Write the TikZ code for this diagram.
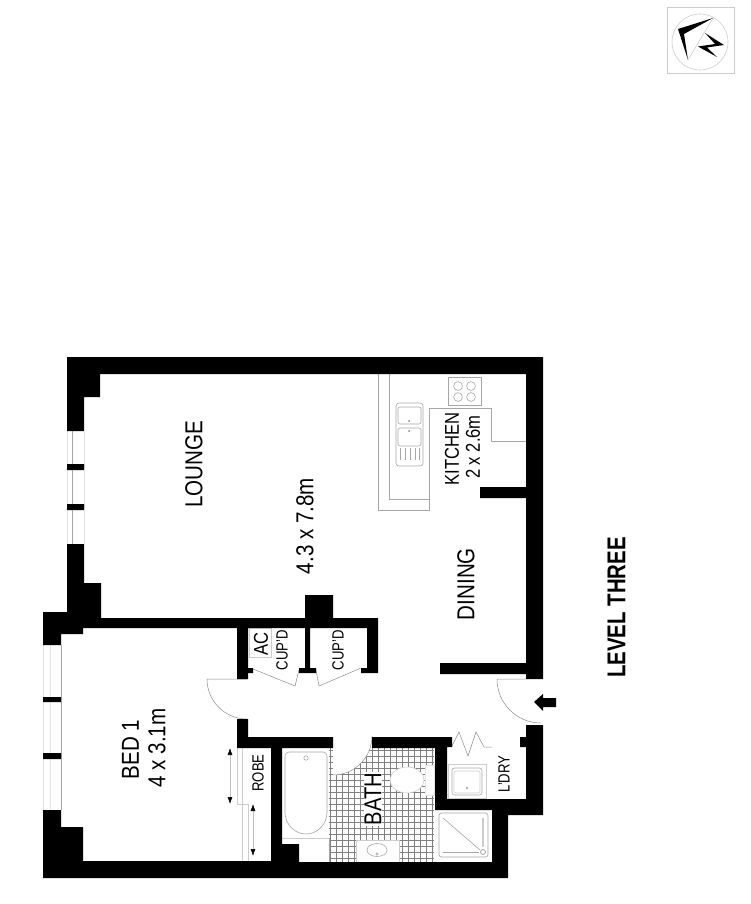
\documentclass[tikz,border=0pt]{standalone}
\usepackage{fontspec}
\setmainfont{Liberation Sans}
\usetikzlibrary{positioning}
\usetikzlibrary{arrows.meta}
\tikzset{
    wall/.style={fill=black},
    fixture/.style={draw=black!35, line width=0.6pt},
    faint/.style={draw=black!20, line width=0.6pt},
    paleline/.style={draw=black!10, line width=0.6pt},
    doorline/.style={draw=black!45, line width=0.5pt},
    tile/.style={draw=black!50, line width=0.9pt},
    roomlabel/.style={rotate=90, xscale=.84, font=\fontsize{24.5}{28}\selectfont, inner sep=0pt},
    smalllabel/.style={rotate=90, xscale=.81, font=\fontsize{16.2}{20}\selectfont, inner sep=0pt},
    kitchenlabel/.style={rotate=90, xscale=.83, font=\fontsize{20}{24}\selectfont, inner sep=0pt},
    robearrow/.style={{Latex[length=7pt,width=5pt,black]}-{Latex[length=7pt,width=5pt,black]}, draw=black!25, line width=0.6pt}
}
\begin{document}
\begin{tikzpicture}[x=1pt, y=-1pt]
    \useasboundingbox (0,0) rectangle (750,904);

    % Bathroom tiles
    \begin{scope}
        \clip (329,748) rectangle (434,862);
        \draw[tile, step=6pt] (329,748) grid (434,862);
    \end{scope}
    \fill[white] (333,736) -- (372,736) arc[start angle=0, end angle=-90, radius=39pt] -- cycle;
    \draw[doorline] (372,736) arc[start angle=0, end angle=-90, radius=39pt];

    % Bath
    \fill[white] (282,748) rectangle (329,862);
    \draw[faint] (282,838) -- (329,838);
    \draw[fixture, rounded corners=4pt] (285,812) -- (285,752) -- (327,752) -- (327,812);
    \draw[fixture] (285,812) arc[start angle=180, end angle=360, x radius=21pt, y radius=22pt];
    \draw[fixture] (306,758) circle[radius=2.2pt];
    \draw[fixture] (329,838) -- (329,862);

    % Toilet and basin
    \draw[faint, fill=white] (407,780) ellipse[x radius=17pt, y radius=13pt];
    \draw[paleline, fill=white] (425,765) rectangle (434,795);
    \draw[faint, fill=white] (356,840) rectangle (399,862);
    \draw[fixture] (377,850) ellipse[x radius=10pt, y radius=6.5pt];
    \draw[fixture] (377,854) circle[radius=1.2pt];

    % Shower
    \fill[white] (435,810) rectangle (492,861);
    \draw[fixture, rounded corners=2.5pt] (439,813) rectangle (488,857);
    \draw[fixture] (443,818) -- (480,850);
    \draw[fixture] (443,852) -- (479,852);
    \draw[faint, line width=1.2pt] (483,818) -- (483,847);
    \draw[fixture, line width=0.8pt] (483,852) circle[radius=2.5pt];

    % Laundry
    \draw[faint] (448,764) rectangle (486,798);
    \draw[fixture, rounded corners=2.5pt] (452,768) rectangle (482,795);
    \draw[faint, rounded corners=2pt] (454,771) rectangle (480,793);
    \draw[fixture] (467,788) circle[radius=1pt];
    \draw[doorline] (452,746) -- (459,732) -- (468,756) -- (476,732) -- (484,747) -- (492,747);

    % Kitchen
    \draw[fixture] (378,374) -- (378,510) -- (429,510) -- (429,408) -- (491,408) -- (491,441) -- (526,441);
    \draw[fixture] (389,374) -- (389,499) -- (429,499);
    \draw[fixture] (448,377) rectangle (481,405);
    \draw[fixture] (458,386) circle[radius=4.4pt] (471,386) circle[radius=4.4pt];
    \draw[fixture] (458,397) circle[radius=4.4pt] (471,397) circle[radius=4.4pt];
    \draw[fixture, rounded corners=3pt] (396,403) rectangle (423,466);
    \draw[fixture, rounded corners=2pt] (398,407) rectangle (421,424);
    \draw[fixture, rounded corners=2pt] (398,428) rectangle (421,446);
    \draw[fixture] (400,448) -- (400,460) (405,448) -- (405,460) (410,448) -- (410,460) (415,448) -- (415,460) (419,448) -- (419,460);
    \fill[black!50] (409,421) circle[radius=1pt] (409,431) circle[radius=1pt];

    % Windows
    \draw[paleline] (67,431) -- (67,544) (84,431) -- (84,544);
    \draw[fixture, line width=1pt] (72,431) -- (72,544);
    \draw[paleline] (43,645) -- (43,810) (50,645) -- (50,810);
    \draw[fixture, line width=1pt] (61,645) -- (61,810);

    % Doors and robe
    \draw[doorline] (247,679) -- (207,679) arc[start angle=180, end angle=270, radius=40pt];
    \draw[doorline] (253,669) -- (295,686) -- (299,670);
    \draw[doorline] (316,670) -- (319,686) -- (361,668);
    \draw[doorline] (526,679) -- (497,679) arc[start angle=180, end angle=270, radius=44pt];
    \draw[faint] (249,628) rectangle (271,657);
    \draw[faint] (237,748) -- (237,804) -- (248,804) -- (248,861);
    \draw[faint] (242,748) -- (242,861);
    \draw[robearrow] (230,748) -- (230,804);
    \draw[robearrow] (253,804) -- (253,856);

    % Walls
    \fill[wall] (67,357) -- (543,357) -- (543,679) -- (526,679) -- (526,663) -- (440,663) -- (440,674) -- (526,674) -- (526,498) -- (480,498) -- (480,487) -- (526,487) -- (526,374) -- (100,374) -- (100,397) -- (84,397) -- (84,431) -- (67,431) -- cycle;
    \fill[wall] (67,464) rectangle (84,470) (67,504) rectangle (84,510);
    \fill[wall] (67,544) -- (84,544) -- (84,583) -- (101,583) -- (101,618) -- (305,618) -- (305,595) -- (333,595) -- (333,618) -- (378,618) -- (378,673) -- (361,673) -- (361,668) -- (367,668) -- (367,628) -- (310,628) -- (310,668) -- (316,668) -- (316,673) -- (299,673) -- (299,668) -- (305,668) -- (305,628) -- (248,628) -- (248,668) -- (253,668) -- (253,673) -- (248,673) -- (248,679) -- (237,679) -- (237,628) -- (83,628) -- (83,634) -- (61,634) -- (61,645) -- (43,645) -- (43,612) -- (67,612) -- cycle;
    \fill[wall] (43,697) rectangle (61,702) (43,753) rectangle (61,759);
    \fill[wall] (43,810) -- (61,810) -- (61,827) -- (83,827) -- (83,861) -- (271,861) -- (271,748) -- (237,748) -- (237,719) -- (248,719) -- (248,737) -- (333,737) -- (333,748) -- (282,748) -- (282,844) -- (299,844) -- (299,862) -- (492,862) -- (492,810) -- (435,810) -- (435,748) -- (372,748) -- (372,737) -- (452,737) -- (452,747) -- (447,747) -- (447,799) -- (526,799) -- (526,747) -- (520,747) -- (520,737) -- (526,737) -- (526,725) -- (543,725) -- (543,815) -- (508,815) -- (508,878) -- (43,878) -- cycle;

    % Entry arrow
    \fill[black] (534,702) -- (543,694) -- (543,698) -- (556,698) -- (556,707) -- (543,707) -- (543,711) -- cycle;

    % Define labels
    \node[roomlabel] (lounge) at (194,464) {LOUNGE};
    \node[roomlabel] (loungesize) at (305,526) {4.3 x 7.8m};
    \node[roomlabel] (dining) at (466,584) {DINING};
    \node[kitchenlabel] (kitchen) at (452,449) {KITCHEN};
    \node[kitchenlabel] (kitchensize) at (473,447) {2 x 2.6m};
    \node[kitchenlabel] (ac) at (261,644) {AC};
    \node[smalllabel] (cupda) at (282,650) {CUP'D};
    \node[smalllabel] (cupdb) at (338,650) {CUP'D};
    \node[smalllabel] (robe) at (258,773) {ROBE};
    \node[smalllabel] (ldry) at (504,774) {L'DRY};
    \node[roomlabel, xscale=.98, fill=white, inner sep=1pt] (bath) at (373,799) {BATH};
    \node[roomlabel] (bed) at (130.5,749.5) {BED 1};
    \node[roomlabel] (bedsize) at (157,748) {4 x 3.1m};
    \node[rotate=90, xscale=.79, font=\bfseries\fontsize{25.8}{30}\selectfont, inner sep=0pt] (level) at (616.5,607.5) {LEVEL THREE};

    % Compass
    \draw[faint] (667,7) rectangle (734,73);
    \draw[faint] (700,42) circle[radius=28pt];
    \draw[faint] (713,18) -- (688,60);
    \fill[black] (713,18) -- (678,29) -- (688,60) -- (684,34) -- cycle;
    \fill[black] (705,33) -- (724,45) -- (707,47.5) -- (717,57) -- (698,46.5) -- (715,44) -- cycle;
\end{tikzpicture}
\end{document}
